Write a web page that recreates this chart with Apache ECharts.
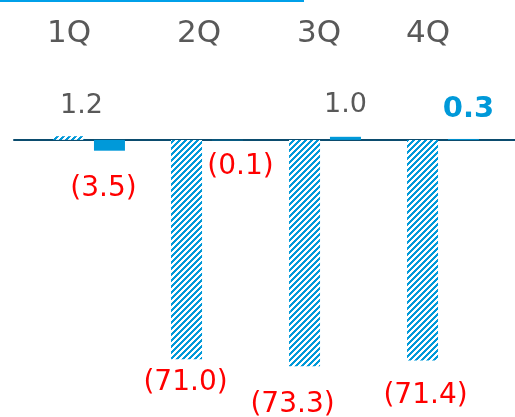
<!DOCTYPE html>
<html><head><meta charset="utf-8">
<script src="https://cdn.jsdelivr.net/npm/echarts@6/dist/echarts.min.js"></script>
<style>html,body{margin:0;padding:0;background:#fff}#c{width:515px;height:417px}</style>
</head><body><div id="c"></div>
<script>
// ---- data ----
const quarters = ['1Q', '2Q', '3Q', '4Q'];
const prevYear = [1.2, -71.0, -73.3, -71.4];   // hatched bars
const currYear = [-3.5, -0.1, 1.0, 0.3];       // solid bars

// ---- styling helpers (positions/styles only) ----
const quarterShift = [-20, -8, -6, -15];
const prevLabelOffset = [[13, -9], [-1, 2], [-12, 16], [3, 13]];
const currLabelOffset = [[-6, 16], [13, 5], [0, -10], [5, -7]];

const BLUE = '#0099d9';
function hatch() {
  const n = 6, c = document.createElement('canvas');
  c.width = n; c.height = n;
  const g = c.getContext('2d');
  g.fillStyle = '#ffffff'; g.fillRect(0, 0, n, n);
  g.fillStyle = BLUE;
  for (let x = 0; x < n; x++) for (let y = 0; y < n; y++) {
    if ((x + y) % n < 3) g.fillRect(x, y, 1, 1);
  }
  return c;
}
const FONT = 'DejaVu Sans';
function fmt(v) { return v < 0 ? '(' + Math.abs(v).toFixed(1) + ')' : v.toFixed(1); }

function labelFor(v, off, special) {
  const neg = v < 0;
  const l = {
    show: true,
    position: neg ? 'bottom' : 'top',
    distance: 8,
    offset: off,
    formatter: fmt(v),
    fontFamily: FONT,
    fontSize: neg ? 28 : 27,
    color: neg ? '#ff0000' : '#595959'
  };
  if (special) { l.color = BLUE; l.fontWeight = 'bold'; l.fontSize = 29; }
  return l;
}

const chart = echarts.init(document.getElementById('c'), null, { renderer: 'canvas' });
const pattern = { image: hatch(), repeat: 'repeat' };

chart.setOption({
  animation: false,
  grid: [
    { left: 30, right: 13, top: 109, bottom: 30 },
    { left: 14, right: 0, top: 109, bottom: 30 }
  ],
  xAxis: [
    {
      gridIndex: 0, type: 'category', position: 'top',
      data: quarters.map((q, i) => ({
        value: q,
        textStyle: { padding: quarterShift[i] < 0 ? [0, -2 * quarterShift[i], 0, 0] : [0, 0, 0, 2 * quarterShift[i]] }
      })),
      axisLine: { show: false }, axisTick: { show: false },
      axisLabel: { fontFamily: FONT, fontSize: 31, color: '#595959', margin: 60 }
    },
    {
      gridIndex: 1, type: 'category', data: [''],
      axisLine: { show: true, onZero: true, lineStyle: { color: '#0b4c6e', width: 2 } },
      axisTick: { show: false }, axisLabel: { show: false }
    }
  ],
  yAxis: [
    { gridIndex: 0, type: 'value', min: -80, max: 10, show: false },
    { gridIndex: 1, type: 'value', min: -80, max: 10, show: false }
  ],
  graphic: [
    { type: 'rect', left: 0, top: 0, shape: { width: 304, height: 2 }, style: { fill: '#00a0e9' }, silent: true }
  ],
  series: [
    {
      type: 'bar', name: 'prev', xAxisIndex: 0, yAxisIndex: 0,
      barWidth: 31, barGap: '32%',
      itemStyle: { color: pattern },
      data: prevYear.map((v, i) => ({ value: v, label: labelFor(v, prevLabelOffset[i], false) }))
    },
    {
      type: 'bar', name: 'curr', xAxisIndex: 0, yAxisIndex: 0,
      barWidth: 31, barGap: '32%',
      itemStyle: { color: BLUE },
      data: currYear.map((v, i) => ({ value: v, label: labelFor(v, currLabelOffset[i], i === 3) }))
    },
    { type: 'bar', xAxisIndex: 1, yAxisIndex: 1, data: [] }
  ]
});
</script></body></html>
